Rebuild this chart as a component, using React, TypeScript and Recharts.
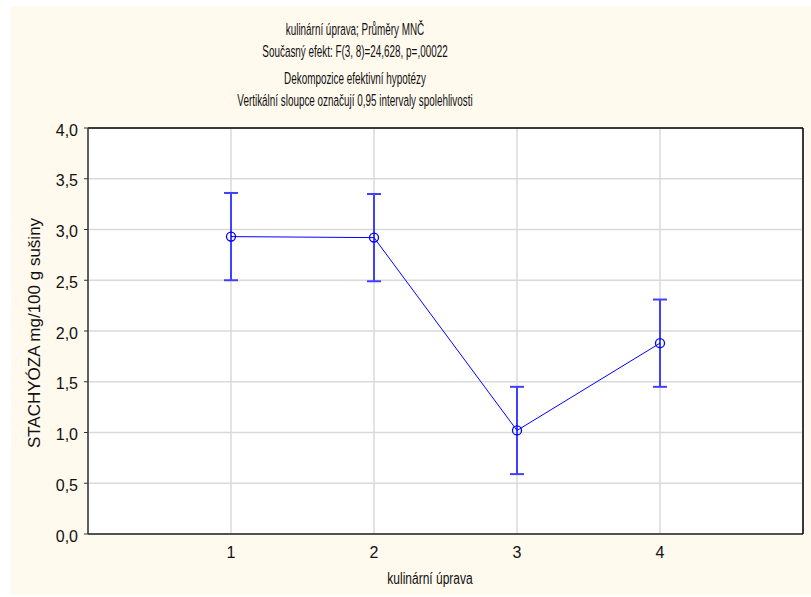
import React from "react";
import {
  ComposedChart, Line, ErrorBar, XAxis, YAxis, CartesianGrid, ReferenceLine,
} from "recharts";

const treatments = [1, 2, 3, 4];
const means = [2.93, 2.92, 1.02, 1.88];
const ciLow = [2.5, 2.49, 0.59, 1.45];
const ciHigh = [3.36, 3.35, 1.45, 2.31];
const yTicks = [0, 0.5, 1, 1.5, 2, 2.5, 3, 3.5, 4];

const titleLines = [
  "kulinární úprava; Průměry MNČ",
  "Současný efekt: F(3, 8)=24,628, p=,00022",
  "Dekompozice efektivní hypotézy",
  "Vertikální sloupce označují 0,95 intervaly spolehlivosti",
];
const titleBaselines = [35, 57, 84, 106];
const xLabel = "kulinární úprava";
const yLabel = "STACHYÓZA mg/100 g sušiny";

const data = treatments.map((t, i) => ({
  x: t,
  mean: means[i],
  err: [means[i] - ciLow[i], ciHigh[i] - means[i]],
}));

const FONT = "'Liberation Sans', Arial, sans-serif";
const BLUE = "#0000ff";

const fmt = (v: number) => v.toFixed(1).replace(".", ",");

export default function App() {
  return (
    <div style={{ position: "absolute", left: 0, top: 0, width: 811, height: 597, background: "#fff", fontFamily: FONT }}>
      <div style={{ position: "absolute", left: 11, top: 6, width: 800, height: 589, background: "#fff9ee" }} />
      <div style={{ position: "absolute", left: 0, top: 0 }}>
        <ComposedChart width={811} height={597} data={data}
          margin={{ top: 128, right: 8, bottom: 0, left: 0 }}>
          <CartesianGrid yAxisId="l" stroke="#dadada" strokeWidth={1.5} fill="#ffffff" fillOpacity={1} />
          <XAxis dataKey="x" type="number" domain={[0, 5]} ticks={treatments} height={63}
            axisLine={{ stroke: "#222", strokeWidth: 1.5 }} tickLine={false} tickSize={4} tickMargin={9}
            tick={{ fill: "#111", fontSize: 16, fontFamily: FONT }} />
          <YAxis yAxisId="l" type="number" domain={[0, 4]} ticks={yTicks} width={88}
            tickFormatter={fmt} axisLine={{ stroke: "#333", strokeWidth: 1.5 }}
            tickLine={{ stroke: "#333" }} tickSize={4} tickMargin={6}
            tick={{ fill: "#111", fontSize: 16, fontFamily: FONT, dy: 2 }}
            label={{ value: yLabel, angle: -90, position: "insideLeft", offset: 34, dy: 2,
              style: { textAnchor: "middle", fill: "#111", fontSize: 17, fontFamily: FONT } }} />
          <YAxis yAxisId="r" orientation="right" type="number" domain={[0, 4]} ticks={yTicks} width={8}
            mirror tick={false} tickSize={4} axisLine={{ stroke: "#000", strokeWidth: 1.5 }}
            tickLine={{ stroke: "#000" }} />
          <ReferenceLine yAxisId="l" y={4} stroke="#000" strokeWidth={1.5} />
          <Line yAxisId="l" dataKey="mean" stroke={BLUE} strokeWidth={1} isAnimationActive={false}
            dot={{ r: 4.5, stroke: BLUE, strokeWidth: 1.3, fill: "none" }} activeDot={false}>
            <ErrorBar dataKey="err" direction="y" width={7} stroke="#4040ff" strokeWidth={2}
              isAnimationActive={false} />
          </Line>
        </ComposedChart>
      </div>
      <svg width={811} height={597} style={{ position: "absolute", left: 0, top: 0, pointerEvents: "none" }}>
        {titleLines.map((t, i) => (
          <text key={i} transform={`translate(355, ${titleBaselines[i]}) scale(0.6, 1)`} textAnchor="middle"
            fontSize={16.5} fontFamily={FONT} fill="#111">{t}</text>
        ))}
        <text transform="translate(430, 584) scale(0.75, 1)" textAnchor="middle"
          fontSize={16} fontFamily={FONT} fill="#111">{xLabel}</text>
      </svg>
    </div>
  );
}
